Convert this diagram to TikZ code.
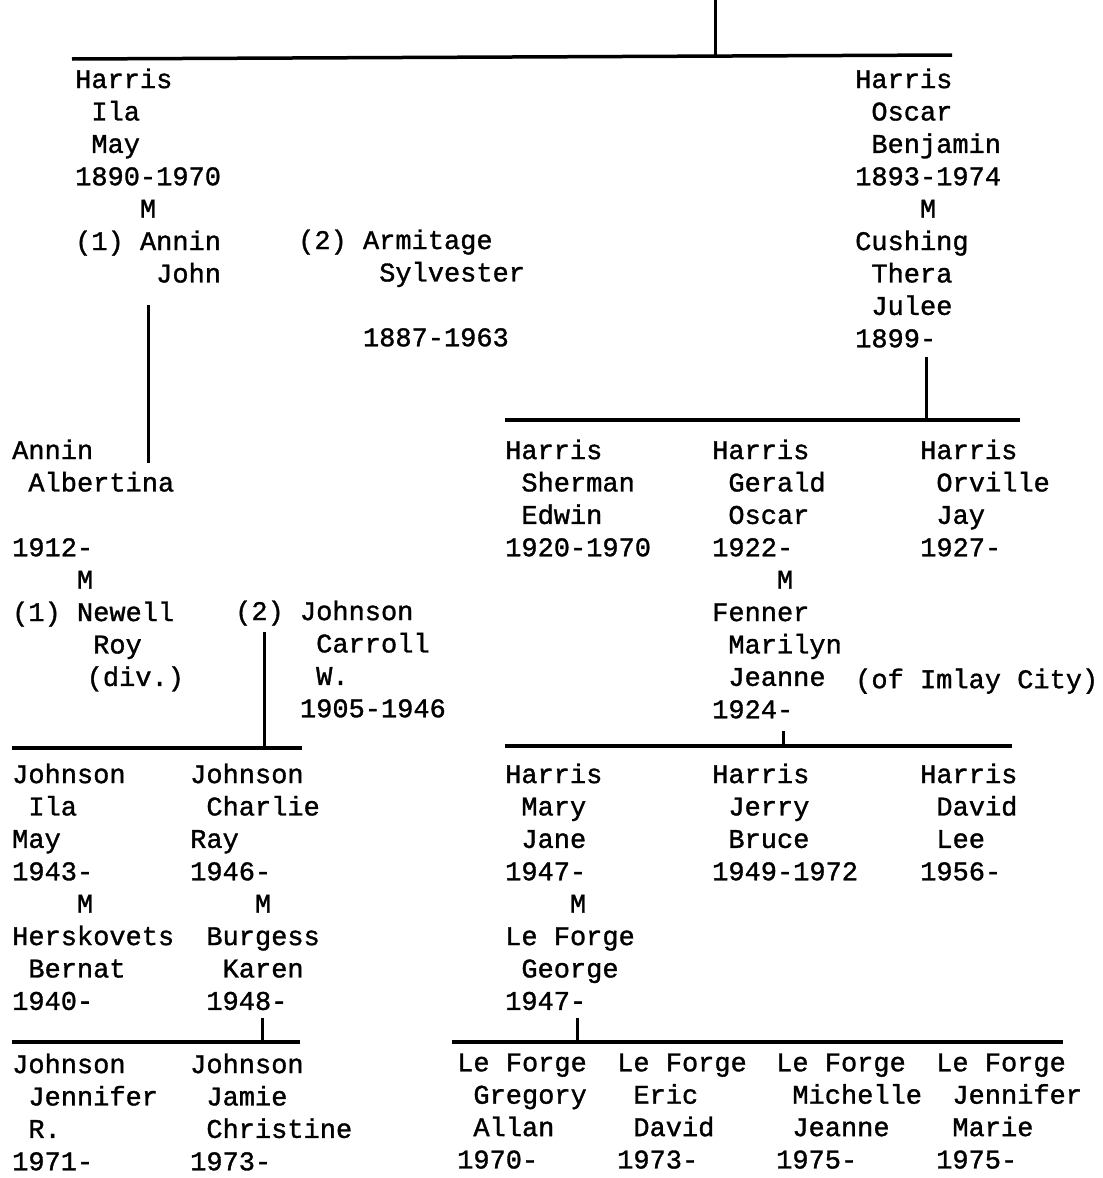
\documentclass[tikz,border=0pt]{standalone}
\usepackage{fontspec}
\newfontfamily\tw[FakeBold=1.2]{Liberation Mono}
\newlength\chw
\setlength\chw{16.2pt}
\newcommand\ind[1]{\hspace*{#1\chw}}

\begin{document}
\begin{tikzpicture}[x=1pt,y=-1pt,
  person/.style={anchor=north west,inner sep=0pt,align=left,
    font=\tw\fontsize{27}{32.4}\selectfont,execute at begin node=\strut},
  bar/.style={line width=3.5pt},
  drop/.style={line width=3pt}]
\path[use as bounding box,fill=white] (0,0) rectangle (1103,1178);

\node[person] (ila) at (75,68.3) {Harris\\\ind{1}Ila\\\ind{1}May\\1890-1970\\\ind{4}M\\(1) Annin\\\ind{5}John};
\node[person] (armitage) at (298,229.3) {(2) Armitage\\\ind{5}Sylvester\\[32.4pt]\ind{4}1887-1963};
\node[person] (oscar) at (855,68.3) {Harris\\\ind{1}Oscar\\\ind{1}Benjamin\\1893-1974\\\ind{4}M\\Cushing\\\ind{1}Thera\\\ind{1}Julee\\1899-};

\node[person] (albertina) at (12,439.3) {Annin\\\ind{1}Albertina\\[32.4pt]1912-\\\ind{4}M\\(1) Newell\\\ind{5}Roy\\\ind{4.6}(div.)};
\node[person] (carroll) at (235,600.3) {(2) Johnson\\\ind{5}Carroll\\\ind{5}W.\\\ind{4}1905-1946};
\node[person] (sherman) at (505,439.3) {Harris\\\ind{1}Sherman\\\ind{1}Edwin\\1920-1970};
\node[person] (gerald) at (712,439.3) {Harris\\\ind{1}Gerald\\\ind{1}Oscar\\1922-\\\ind{4}M\\Fenner\\\ind{1}Marilyn\\\ind{1}Jeanne\\1924-};
\node[person] (imlay) at (855,665.3) {(of Imlay City)};
\node[person] (orville) at (920,439.3) {Harris\\\ind{1}Orville\\\ind{1}Jay\\1927-};

\node[person] (ilamay) at (12,763.3) {Johnson\\\ind{1}Ila\\May\\1943-\\\ind{4}M\\Herskovets\\\ind{1}Bernat\\1940-};
\node[person] (charlie) at (190,763.3) {Johnson\\\ind{1}Charlie\\Ray\\1946-\\\ind{4}M\\\ind{1}Burgess\\\ind{2}Karen\\\ind{1}1948-};
\node[person] (mary) at (505,763.3) {Harris\\\ind{1}Mary\\\ind{1}Jane\\1947-\\\ind{4}M\\Le Forge\\\ind{1}George\\1947-};
\node[person] (jerry) at (712,763.3) {Harris\\\ind{1}Jerry\\\ind{1}Bruce\\1949-1972};
\node[person] (david) at (920,763.3) {Harris\\\ind{1}David\\\ind{1}Lee\\1956-};

\node[person] (jennifer) at (12,1053.3) {Johnson\\\ind{1}Jennifer\\\ind{1}R.\\1971-};
\node[person] (jamie) at (190,1053.3) {Johnson\\\ind{1}Jamie\\\ind{1}Christine\\1973-};
\node[person] (gregory) at (457,1053.3) {Le Forge\\\ind{1}Gregory\\\ind{1}Allan\\1970-};
\node[person] (eric) at (617,1053.3) {Le Forge\\\ind{1}Eric\\\ind{1}David\\1973-};
\node[person] (michelle) at (776,1053.3) {Le Forge\\\ind{1}Michelle\\\ind{1}Jeanne\\1975-};
\node[person] (jmarie) at (936,1053.3) {Le Forge\\\ind{1}Jennifer\\\ind{1}Marie\\1975-};

\coordinate (top) at (715,0);
\coordinate (barAl) at (72,59);
\coordinate (barAr) at (952,55);
\coordinate (barBl) at (505,420);
\coordinate (barBr) at (1020,420);
\coordinate (barCl) at (12,748);
\coordinate (barCr) at (302,748);
\coordinate (barDl) at (505,746);
\coordinate (barDr) at (1012,746);
\coordinate (barEl) at (12,1042);
\coordinate (barEr) at (300,1042);
\coordinate (barFl) at (452,1042);
\coordinate (barFr) at (1063,1042);

\draw[bar] (barAl) -- (barAr);
\draw[drop] (top) -- (top |- 0,57);
\draw[drop] (148,305) -- (148,463);
\draw[bar] (barBl) -- (barBr);
\draw[drop] (oscar.south -| 926,0) -- (926,420);
\draw[bar] (barCl) -- (barCr);
\draw[drop] (264,632) -- (264,748);
\draw[bar] (barDl) -- (barDr);
\draw[drop] (783,731) -- (783,746);
\draw[bar] (barEl) -- (barEr);
\draw[drop] (262,1018) -- (262,1042);
\draw[bar] (barFl) -- (barFr);
\draw[drop] (577,1018) -- (577,1042);
\end{tikzpicture}
\end{document}
